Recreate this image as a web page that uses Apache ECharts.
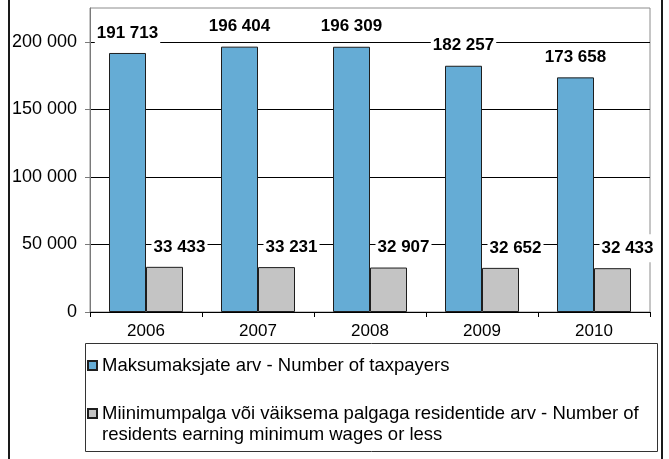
<!DOCTYPE html>
<html>
<head>
<meta charset="utf-8">
<script src="https://cdn.jsdelivr.net/npm/echarts@6/dist/echarts.min.js"></script>
<style>
  html, body { margin: 0; padding: 0; background: #fff; }
  #chart { width: 669px; height: 459px; }
</style>
</head>
<body>
<div id="chart"></div>
<script>
// Taxpayers vs. residents earning minimum wage or less, 2006–2010
const years = ['2006', '2007', '2008', '2009', '2010'];
const taxpayers = [191713, 196404, 196309, 182257, 173658];
const minWageResidents = [33433, 33231, 32907, 32652, 32433];
const yTicks = [0, 50000, 100000, 150000, 200000];

const nameTaxpayers = 'Maksumaksjate arv - Number of taxpayers';
const nameMinWage = 'Miinimumpalga või väiksema palgaga residentide arv - Number of residents earning minimum wages or less';

const FONT = '"Liberation Sans", Arial, Helvetica, sans-serif';

// 191713 -> "191 713"
function spaced(v) {
  return String(v).replace(/\B(?=(\d{3})+(?!\d))/g, ' ');
}

const chart = echarts.init(document.getElementById('chart'), null, { renderer: 'canvas' });

const labelBase = {
  show: true,
  position: 'top',
  distance: 6,
  color: '#000',
  fontFamily: FONT,
  fontSize: 17,
  fontWeight: 'bold',
  lineHeight: 20,
  backgroundColor: '#fff',
  padding: [4, 2],
  formatter: p => spaced(p.value)
};

const legendText = { color: '#000', fontSize: 18.5, lineHeight: 21, fontFamily: FONT };

chart.setOption({
  animation: false,
  backgroundColor: '#fff',
  textStyle: { fontFamily: FONT },
  grid: {
    left: 90, right: 19, top: 8, bottom: 147,
    show: true, borderColor: '#8c8c8c', borderWidth: 1, backgroundColor: 'transparent'
  },
  xAxis: {
    type: 'category',
    data: years,
    boundaryGap: true,
    axisLine: { lineStyle: { color: '#000', width: 1 } },
    axisTick: { show: true, length: 5, lineStyle: { color: '#000' } },
    axisLabel: { color: '#000', fontSize: 17, margin: 11, fontFamily: FONT }
  },
  yAxis: {
    type: 'value',
    min: 0,
    max: 225000,
    interval: 50000,
    axisLine: { show: true, lineStyle: { color: '#7a7a7a' } },
    axisTick: { show: true, length: 5, lineStyle: { color: '#7a7a7a' }, customValues: yTicks },
    axisLabel: {
      color: '#000', fontSize: 18, margin: 13, fontFamily: FONT,
      customValues: yTicks,
      formatter: v => spaced(v)
    },
    splitLine: {
      show: true,
      lineStyle: { color: ['#000', '#000', '#000', '#000', '#000', '#8c8c8c'], width: 1 }
    }
  },
  legend: [
    {
      data: [nameTaxpayers],
      left: 87, top: 355,
      padding: 0,
      icon: 'rect', itemWidth: 9, itemHeight: 9,
      textStyle: legendText
    },
    {
      data: [nameMinWage],
      left: 87, top: 382,
      padding: 0,
      icon: 'rect', itemWidth: 9, itemHeight: 9,
      // a blank leading line keeps the swatch level with the first text line
      formatter: n => ' \n' + n.replace(' - Number of ', ' - Number of\n'),
      textStyle: legendText
    }
  ],
  graphic: [
    // legend frame
    {
      type: 'rect', silent: true, z: -1,
      shape: { x: 85.5, y: 343.5, width: 572, height: 108 },
      style: { fill: 'none', stroke: '#333', lineWidth: 1 }
    },
    // outer frame
    {
      type: 'rect', silent: true,
      shape: { x: 9, y: -10, width: 653, height: 480 },
      style: { fill: 'none', stroke: '#1a1a1a', lineWidth: 2 }
    }
  ],
  series: [
    {
      name: nameTaxpayers,
      type: 'bar',
      data: taxpayers,
      barWidth: 37,
      barGap: '0%',
      itemStyle: { color: '#65acd5', borderColor: '#1e1e1e', borderWidth: 1 },
      label: Object.assign({}, labelBase)
    },
    {
      name: nameMinWage,
      type: 'bar',
      data: minWageResidents,
      barWidth: 37,
      itemStyle: { color: '#c4c4c4', borderColor: '#1e1e1e', borderWidth: 1 },
      label: Object.assign({}, labelBase, { offset: [15, 0] })
    }
  ]
});
</script>
</body>
</html>
